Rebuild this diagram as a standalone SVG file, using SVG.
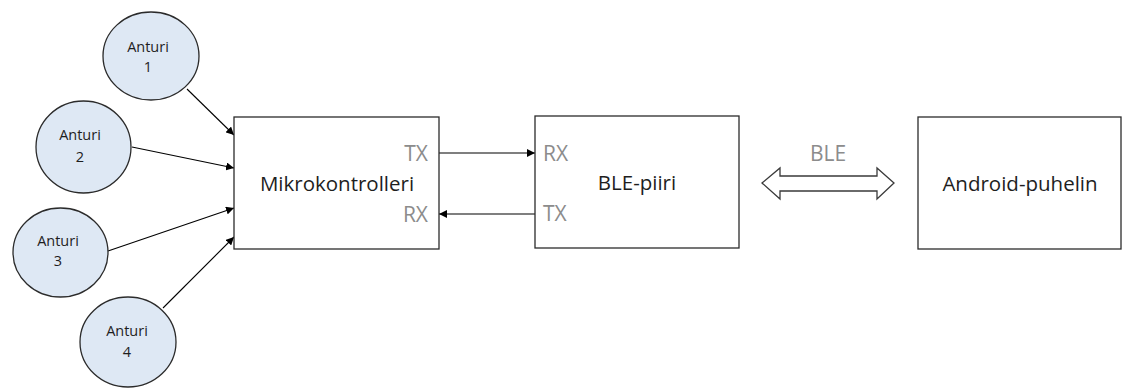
<svg xmlns="http://www.w3.org/2000/svg" width="1122" height="390" viewBox="0 0 1122 390">
<defs>
<style>
.box{fill:#fff;stroke:#2b2b2b;stroke-width:1.3}
.circ{fill:#dee8f4;stroke:#2b2b2b;stroke-width:1.3}
.lbl{font-family:"Open Sans","DejaVu Sans",sans-serif;font-size:20.5px;fill:#1e1e1e;text-anchor:middle}
.small{font-family:"Open Sans","DejaVu Sans",sans-serif;font-size:14.5px;fill:#1e1e1e;text-anchor:middle}
.port{font-family:"Open Sans","DejaVu Sans",sans-serif;font-size:21px;fill:#8c8c8c}
.con{stroke:#000;stroke-width:1.1;fill:none;marker-end:url(#ah)}
</style>
<marker id="ah" viewBox="0 0 10 10" refX="10" refY="5" markerWidth="8" markerHeight="8" markerUnits="userSpaceOnUse" orient="auto">
<path d="M0,0 L10,5 L0,10 z" fill="#000"/>
</marker>
</defs>
<rect width="1122" height="390" fill="#fff"/>
<g id="connectors">
<line class="con" x1="187" y1="89" x2="234" y2="135"/>
<line class="con" x1="132" y1="147" x2="234" y2="168"/>
<line class="con" x1="108" y1="251" x2="234" y2="208"/>
<line class="con" x1="163" y1="308" x2="234" y2="237"/>
<line class="con" x1="439" y1="153" x2="535" y2="153"/>
<line class="con" x1="535" y1="214" x2="439" y2="214"/>
<path d="M762,183 L780,168 L780,176 L877,176 L877,168 L894,183 L877,199 L877,191 L780,191 L780,199 Z" fill="#fff" stroke="#3a3a3a" stroke-width="1.3"/>
<text class="port" x="828" y="161" text-anchor="middle">BLE</text>
</g>
<g id="anturi1">
<ellipse class="circ" cx="151" cy="56" rx="48" ry="44"/>
<text class="small" x="148" y="52">Anturi</text>
<text class="small" x="148" y="72">1</text>
</g>
<g id="anturi2">
<ellipse class="circ" cx="83.5" cy="147" rx="47.5" ry="46"/>
<text class="small" x="80" y="140">Anturi</text>
<text class="small" x="80" y="162">2</text>
</g>
<g id="anturi3">
<ellipse class="circ" cx="60.5" cy="252.5" rx="47.5" ry="44.5"/>
<text class="small" x="58" y="246">Anturi</text>
<text class="small" x="58" y="266">3</text>
</g>
<g id="anturi4">
<ellipse class="circ" cx="128" cy="342" rx="48" ry="45"/>
<text class="small" x="127" y="336">Anturi</text>
<text class="small" x="127" y="357">4</text>
</g>
<g id="mikrokontrolleri">
<rect class="box" x="234" y="117" width="205" height="132"/>
<text class="lbl" x="337" y="191">Mikrokontrolleri</text>
<text class="port" x="428" y="161" text-anchor="end">TX</text>
<text class="port" x="428" y="222" text-anchor="end">RX</text>
</g>
<g id="ble-piiri">
<rect class="box" x="535" y="116" width="204" height="132"/>
<text class="lbl" x="637" y="190">BLE-piiri</text>
<text class="port" x="543" y="161">RX</text>
<text class="port" x="543" y="221">TX</text>
</g>
<g id="android">
<rect class="box" x="918" y="117" width="203" height="132"/>
<text class="lbl" x="1020" y="191">Android-puhelin</text>
</g>
</svg>
